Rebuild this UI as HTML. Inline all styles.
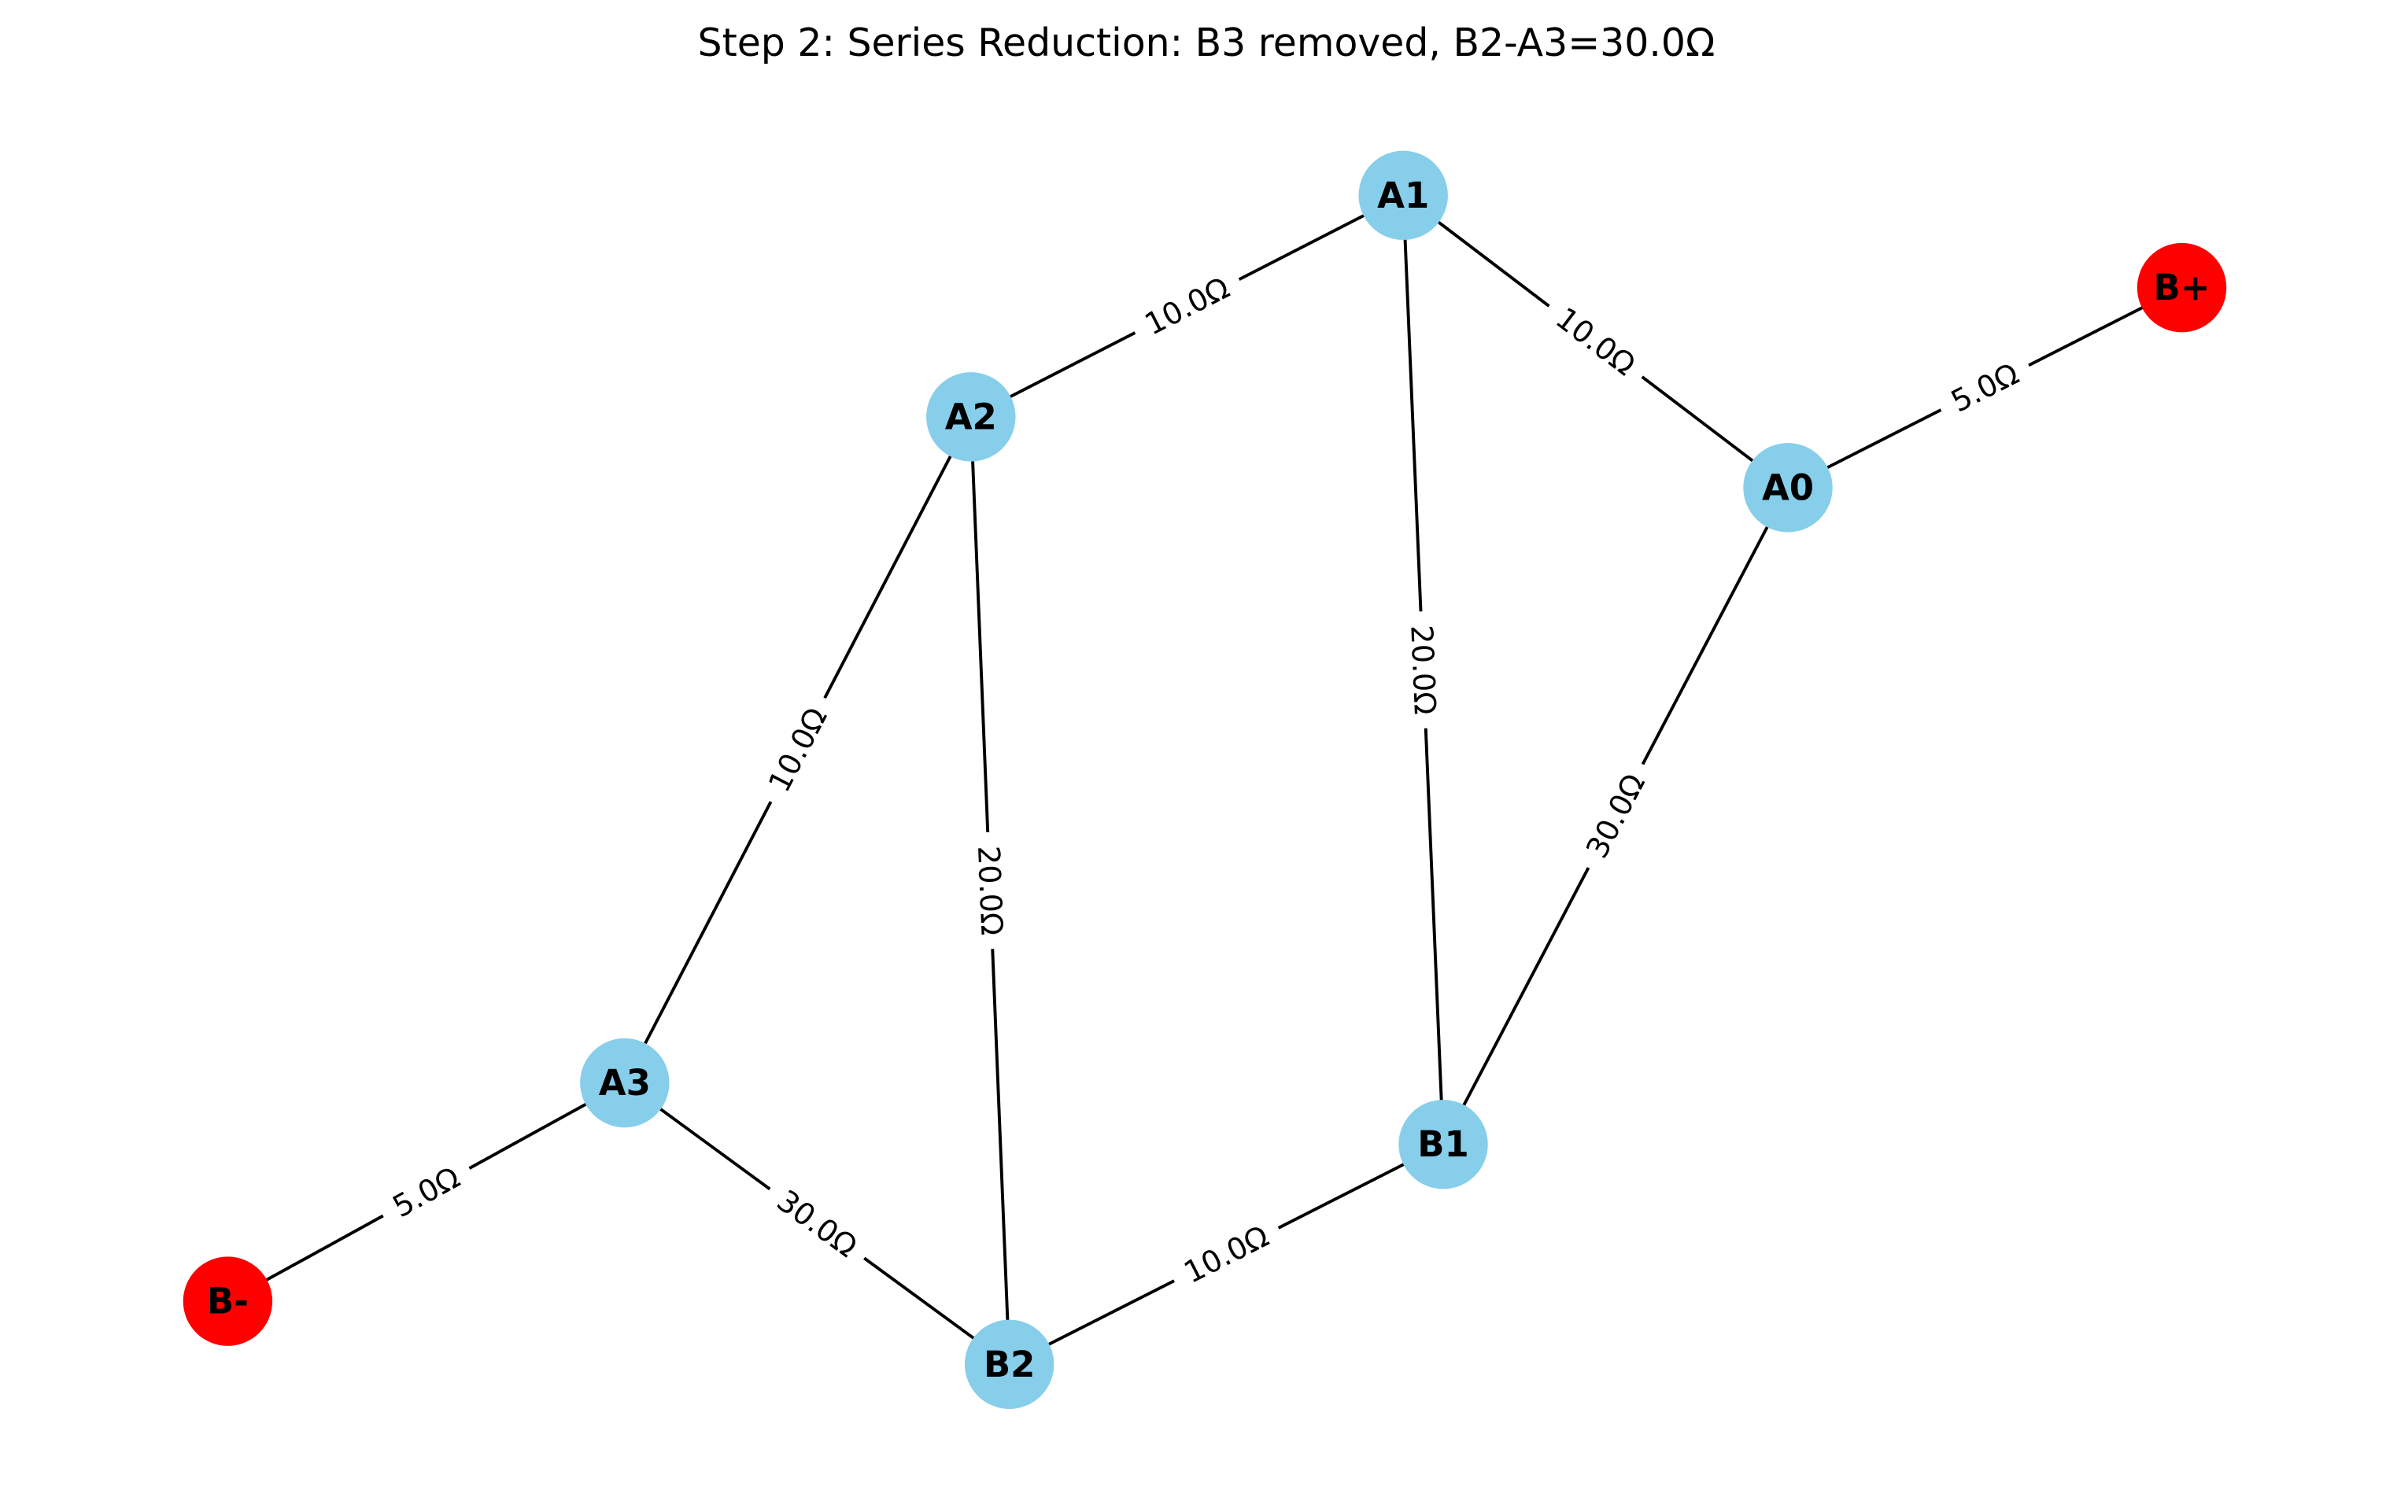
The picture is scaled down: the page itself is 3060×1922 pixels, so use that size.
<!DOCTYPE html>
<html><head><meta charset="utf-8"><style>
html,body{margin:0;padding:0;background:#fff;}
svg{display:block;}
text{font-family:"DejaVu Sans","Liberation Sans",sans-serif;}
.e{stroke:#000;stroke-width:2;}
.n{fill:#87ceeb;}
.r{fill:#ff0000;}
.nl{font-size:23px;font-weight:bold;text-anchor:middle;dominant-baseline:central;}
.el{font-size:19.5px;text-anchor:middle;dominant-baseline:central;}
</style></head><body>
<svg width="3060" height="1922" viewBox="0 0 1565 983" xmlns="http://www.w3.org/2000/svg">
<rect width="1565" height="983" fill="#fff"/>
<text x="784" y="28" font-size="25" text-anchor="middle" dominant-baseline="central">Step 2: Series Reduction: B3 removed, B2-A3=30.0Ω</text>
<g>
<line class="e" x1="631" y1="271" x2="912" y2="127"/>
<line class="e" x1="912" y1="127" x2="1162" y2="317"/>
<line class="e" x1="1162" y1="317" x2="1418" y2="187"/>
<line class="e" x1="912" y1="127" x2="938" y2="744"/>
<line class="e" x1="1162" y1="317" x2="938" y2="744"/>
<line class="e" x1="631" y1="271" x2="406" y2="704"/>
<line class="e" x1="631" y1="271" x2="656" y2="887"/>
<line class="e" x1="406" y1="704" x2="148" y2="846"/>
<line class="e" x1="406" y1="704" x2="656" y2="887"/>
<line class="e" x1="656" y1="887" x2="938" y2="744"/>
</g>
<g>
<g transform="translate(771.5,199) rotate(-27.1)"><rect x="-38" y="-12" width="76" height="24" fill="#fff"/><text class="el">10.0Ω</text></g>
<g transform="translate(1037,222) rotate(37.2)"><rect x="-38" y="-12" width="76" height="24" fill="#fff"/><text class="el">10.0Ω</text></g>
<g transform="translate(1290,252) rotate(-26.9)"><rect x="-32" y="-12" width="64" height="24" fill="#fff"/><text class="el">5.0Ω</text></g>
<g transform="translate(925,435.5) rotate(87.6)"><rect x="-38" y="-12" width="76" height="24" fill="#fff"/><text class="el">20.0Ω</text></g>
<g transform="translate(1050,530.5) rotate(-62.3)"><rect x="-38" y="-12" width="76" height="24" fill="#fff"/><text class="el">30.0Ω</text></g>
<g transform="translate(518.5,487.5) rotate(-62.5)"><rect x="-38" y="-12" width="76" height="24" fill="#fff"/><text class="el">10.0Ω</text></g>
<g transform="translate(643.5,579) rotate(87.7)"><rect x="-38" y="-12" width="76" height="24" fill="#fff"/><text class="el">20.0Ω</text></g>
<g transform="translate(277,775) rotate(-28.8)"><rect x="-32" y="-12" width="64" height="24" fill="#fff"/><text class="el">5.0Ω</text></g>
<g transform="translate(531,795.5) rotate(36.2)"><rect x="-38" y="-12" width="76" height="24" fill="#fff"/><text class="el">30.0Ω</text></g>
<g transform="translate(797,815.5) rotate(-26.9)"><rect x="-38" y="-12" width="76" height="24" fill="#fff"/><text class="el">10.0Ω</text></g>
</g>
<g>
<circle class="n" cx="912" cy="127" r="29"/><text class="nl" x="912" y="127">A1</text>
<circle class="r" cx="1418" cy="187" r="29"/><text class="nl" x="1418" y="187">B+</text>
<circle class="n" cx="631" cy="271" r="29"/><text class="nl" x="631" y="271">A2</text>
<circle class="n" cx="1162" cy="317" r="29"/><text class="nl" x="1162" y="317">A0</text>
<circle class="n" cx="406" cy="704" r="29"/><text class="nl" x="406" y="704">A3</text>
<circle class="n" cx="938" cy="744" r="29"/><text class="nl" x="938" y="744">B1</text>
<circle class="r" cx="148" cy="846" r="29"/><text class="nl" x="148" y="846">B-</text>
<circle class="n" cx="656" cy="887" r="29"/><text class="nl" x="656" y="887">B2</text>
</g>
</svg>
</body></html>
